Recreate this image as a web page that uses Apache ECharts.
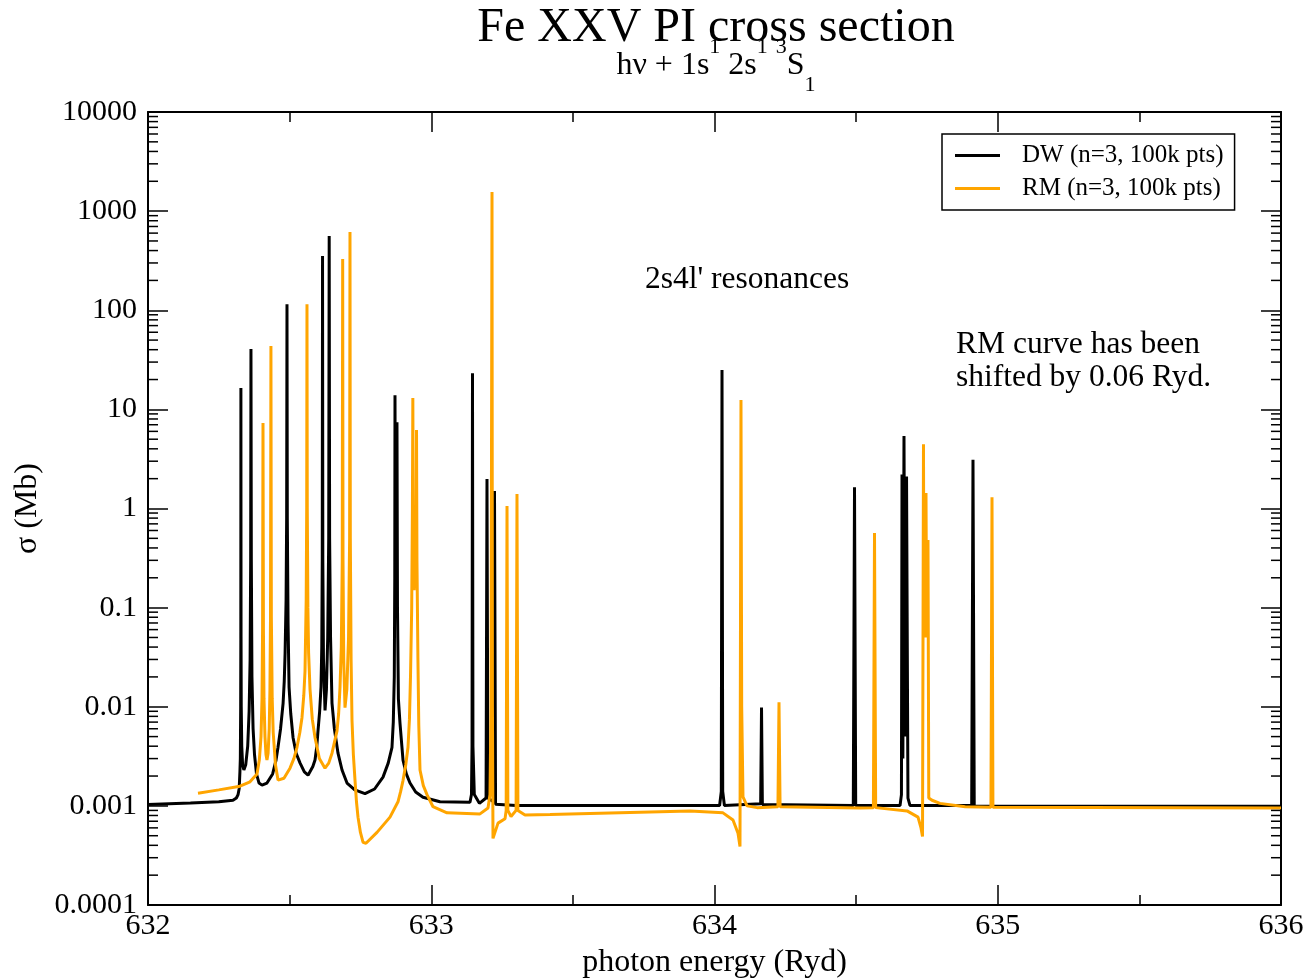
<!DOCTYPE html>
<html>
<head>
<meta charset="utf-8">
<script src="https://cdn.jsdelivr.net/npm/echarts@6/dist/echarts.min.js"></script>
<style>html,body{margin:0;padding:0;background:#fff}#chart{width:1311px;height:980px}</style>
</head>
<body>
<div id="chart"></div>
<script>
// ---------------- data ----------------
const xTickValues = [632, 633, 634, 635, 636];
const yTickLabels = ['0.0001', '0.001', '0.01', '0.1', '1', '10', '100', '1000', '10000'];
const yMinorTickMultipliers = [2, 3, 4, 5, 6, 7, 8, 9];
const yDecades = [-4, -3, -2, -1, 0, 1, 2, 3];

// DW curve (black): photon energy (Ryd) and cross section (Mb)
const dwEnergy = [
  632.000, 632.150, 632.250, 632.300, 632.312, 632.318, 632.322, 632.3245, 632.326, 632.3272,
  632.3277, 632.328, 632.3285, 632.3292, 632.331, 632.334, 632.3385, 632.345, 632.352, 632.357,
  632.3605, 632.3625, 632.3635, 632.3648, 632.367, 632.371, 632.376, 632.383, 632.392, 632.4025,
  632.420, 632.440, 632.452, 632.459, 632.468, 632.477, 632.481, 632.484, 632.4875, 632.4895,
  632.4907, 632.4918, 632.4945, 632.498, 632.504, 632.512, 632.523, 632.537, 632.552, 632.565,
  632.572, 632.582, 632.5896, 632.596, 632.6002, 632.606, 632.6108, 632.6135, 632.6152, 632.6162,
  632.6172, 632.6195, 632.625, 632.630, 632.6345, 632.638, 632.6397, 632.6412, 632.6445, 632.6496,
  632.658, 632.6708, 632.685, 632.7026, 632.730, 632.7661, 632.800, 632.8297, 632.848, 632.8614,
  632.866, 632.8695, 632.8712, 632.872, 632.8735, 632.8765, 632.879, 632.8808, 632.884, 632.8897,
  632.9003, 632.912, 632.925, 632.945, 632.9709, 633.0309, 633.1368,
  633.142, 633.144, 633.1456, 633.1472, 633.152, 633.170, 633.1935, 633.1968, 633.200, 633.220,
  633.2233, 633.227, 633.300, 634.018, 634.024, 634.0265, 634.029, 634.035, 634.163, 634.166,
  634.169, 634.490, 634.4943, 634.4985, 634.655, 634.660, 634.662, 634.665, 634.669, 634.673,
  634.678, 634.683, 634.690, 634.908, 634.9126, 634.917, 636.000
];
const dwSigma = [
  0.00103, 0.00107, 0.00110, 0.00114, 0.0012, 0.0013, 0.0015, 0.0022, 0.003, 0.01,
  0.05, 16.4, 0.05, 0.01, 0.004, 0.0026, 0.0023, 0.0026, 0.004, 0.009,
  0.03, 0.3, 40.7, 0.3, 0.02, 0.006, 0.0033, 0.0021, 0.0017, 0.00162,
  0.0017, 0.0021, 0.0029, 0.0039, 0.0060, 0.0109, 0.018, 0.0348, 0.12, 0.8,
  115, 0.8, 0.07, 0.0158, 0.0085, 0.0049, 0.0034, 0.0027, 0.0022, 0.00204,
  0.0021, 0.0025, 0.0029, 0.0040, 0.0057, 0.009, 0.0158, 0.04, 0.3, 352,
  0.3, 0.03, 0.0092, 0.015, 0.05, 0.5, 561, 0.5, 0.05, 0.0109,
  0.0060, 0.0034, 0.0023, 0.0017, 0.00145, 0.00133, 0.00148, 0.00195, 0.0027, 0.0039,
  0.007, 0.02, 0.2, 13.9, 0.3, 0.2, 7.4, 0.1, 0.012, 0.0068,
  0.0029, 0.0021, 0.0017, 0.00138, 0.00122, 0.00110, 0.00109,
  0.0013, 0.004, 23.2, 0.004, 0.0013, 0.00106, 0.0012, 1.98, 0.0012, 0.0011,
  1.5, 0.00104, 0.00101, 0.00101, 0.0014, 24.9, 0.0014, 0.00101, 0.00105, 0.0098,
  0.00103, 0.00101, 1.64, 0.00101, 0.00101, 0.0013, 2.2, 0.003, 5.4, 0.005,
  2.1, 0.0012, 0.00101, 0.00101, 3.1, 0.00100, 0.00099
];

// RM curve (orange, shifted by 0.06 Ryd)
const rmEnergy = [
  632.1765, 632.250, 632.3248, 632.3601, 632.3848, 632.393, 632.399, 632.4025, 632.4045, 632.406,
  632.4075, 632.4095, 632.413, 632.4165, 632.420, 632.424, 632.428, 632.4305, 632.4325, 632.434,
  632.4355, 632.4385, 632.442, 632.450, 632.459, 632.480, 632.5013, 632.515, 632.526, 632.536,
  632.5437, 632.550, 632.5543, 632.5585, 632.5603, 632.5613, 632.5623, 632.5645, 632.567, 632.572,
  632.580, 632.5896, 632.605, 632.6249, 632.638, 632.6496, 632.6673, 632.673, 632.6779, 632.6825,
  632.6858, 632.6873, 632.6885, 632.691, 632.6955, 632.702, 632.708, 632.7118, 632.7131, 632.7143,
  632.717, 632.7202, 632.725, 632.7308, 632.736, 632.7414, 632.750, 632.759, 632.7696, 632.8085,
  632.8544, 632.8826, 632.892, 632.9003, 632.910, 632.9179, 632.923, 632.9267, 632.931, 632.9335,
  632.935, 632.9365, 632.9395, 632.9435, 632.9465, 632.948, 632.9495, 632.953, 632.956, 632.9603,
  632.972, 632.985, 633.0062, 633.0556, 633.1721,
  633.2004, 633.2074, 633.211, 633.2145, 633.216, 633.218, 633.2357, 633.2604, 633.2645, 633.2675,
  633.2705, 633.2816, 633.2995, 633.3027, 633.306, 633.331, 633.4193, 633.9135, 634.030, 634.0653,
  634.083, 634.090, 634.0935, 634.096, 634.1006, 634.1148, 634.150, 634.224, 634.2277, 634.2315,
  634.5137, 634.561, 634.5649, 634.569, 634.6797, 634.7185, 634.729, 634.7344, 634.7378, 634.7395,
  634.7467, 634.749, 634.7537, 634.7565, 634.7679, 634.796, 634.885, 634.976, 634.9797, 634.983,
  636.000
];
const rmSigma = [
  0.00134, 0.00145, 0.00158, 0.00175, 0.0021, 0.0029, 0.005, 0.012, 0.06, 7.3,
  0.06, 0.012, 0.005, 0.0033, 0.0029, 0.0034, 0.006, 0.015, 0.08, 43.5,
  0.08, 0.012, 0.0055, 0.0026, 0.00182, 0.0019, 0.0024, 0.0030, 0.0039, 0.0055,
  0.0078, 0.013, 0.0228, 0.12, 1, 115, 1, 0.1, 0.035, 0.015,
  0.0075, 0.0049, 0.0030, 0.0024, 0.0027, 0.0034, 0.0057, 0.0085, 0.0158, 0.04,
  0.3, 329, 0.3, 0.03, 0.0098, 0.015, 0.05, 0.5, 615, 0.5,
  0.03, 0.0073, 0.0033, 0.00182, 0.0011, 0.00077, 0.00054, 0.00043, 0.00042, 0.00054,
  0.00077, 0.0011, 0.0014, 0.0018, 0.0026, 0.0039, 0.0075, 0.02, 0.1, 1,
  13, 0.6, 0.15, 0.15, 0.6, 6.2, 0.3, 0.03, 0.0065, 0.0023,
  0.0016, 0.0013, 0.00098, 0.00085, 0.00083,
  0.00095, 0.0013, 0.01, 1560, 0.01, 0.00047, 0.00067, 0.00074, 0.0009, 1.06,
  0.0009, 0.00078, 0.0009, 1.4, 0.0009, 0.00081, 0.00082, 0.00089, 0.00085, 0.00072,
  0.00053, 0.00039, 12.4, 0.01, 0.00123, 0.00100, 0.00096, 0.00098, 0.0111, 0.00098,
  0.00095, 0.00096, 0.565, 0.00096, 0.00089, 0.00077, 0.0006, 0.00049, 4.45, 0.05,
  1.43, 0.05, 0.48, 0.0012, 0.00114, 0.00106, 0.00098, 0.00097, 1.3, 0.00097,
  0.00095
];

const seriesNames = ['DW (n=3, 100k pts)', 'RM (n=3, 100k pts)'];
const seriesColors = ['#000000', '#FFA500'];
// -------------------------------------------------------------

const FONT = '"Liberation Serif", "Times New Roman", Times, serif';
const zip = (xs, ys) => xs.map((x, i) => [x, ys[i]]);
const yMinorTicks = [];
yDecades.forEach(d => yMinorTickMultipliers.forEach(m => yMinorTicks.push([xTickValues[0], m * Math.pow(10, d)])));

const xMin = xTickValues[0], xMax = xTickValues[xTickValues.length - 1];
const yMin = Number(yTickLabels[0]), yMax = Number(yTickLabels[yTickLabels.length - 1]);

const axisLine = { show: true, onZero: false, lineStyle: { color: '#000', width: 2 } };
const majorTick = { show: true, inside: true, length: 20, lineStyle: { color: '#000', width: 1.5 } };
const minorTickX = { show: true, splitNumber: 2, length: 10, lineStyle: { color: '#000', width: 1.5 } };

const chart = echarts.init(document.getElementById('chart'), null, { renderer: 'canvas' });
chart.setOption({
  animation: false,
  backgroundColor: '#fff',
  grid: { left: 148, right: 30, top: 112, bottom: 75, containLabel: false, outerBoundsMode: 'none' },
  xAxis: [
    {
      type: 'value', min: xMin, max: xMax, interval: 1, position: 'bottom',
      axisLine: axisLine, axisTick: majorTick, minorTick: minorTickX,
      splitLine: { show: false },
      axisLabel: { color: '#000', fontFamily: FONT, fontSize: 30, margin: 6 },
      name: 'photon energy (Ryd)', nameLocation: 'middle', nameGap: 42,
      nameTextStyle: { color: '#000', fontFamily: FONT, fontSize: 32 }
    },
    {
      type: 'value', min: xMin, max: xMax, interval: 1, position: 'top',
      axisLine: axisLine, axisTick: majorTick, minorTick: minorTickX,
      splitLine: { show: false }, axisLabel: { show: false }
    }
  ],
  yAxis: [
    {
      type: 'log', logBase: 10, min: yMin, max: yMax, splitNumber: 8, position: 'left',
      axisLine: axisLine, axisTick: majorTick, minorTick: { show: false },
      splitLine: { show: false },
      axisLabel: {
        color: '#000', fontFamily: FONT, fontSize: 30, margin: 11,
        formatter: v => yTickLabels[Math.round(Math.log10(v)) + 4]
      },
      name: 'σ (Mb)', nameLocation: 'middle', nameGap: 100, nameRotate: 90,
      nameTextStyle: { color: '#000', fontFamily: FONT, fontSize: 32 }
    },
    {
      type: 'log', logBase: 10, min: yMin, max: yMax, splitNumber: 8, position: 'right',
      axisLine: axisLine, axisTick: majorTick, minorTick: { show: false },
      splitLine: { show: false }, axisLabel: { show: false }
    }
  ],
  legend: {
    data: seriesNames,
    orient: 'vertical', left: 942, top: 134,
    padding: [9, 11, 9, 13], itemGap: 8, itemWidth: 45, itemHeight: 3, icon: 'rect',
    borderColor: '#000', borderWidth: 1.5, backgroundColor: '#fff',
    textStyle: { color: '#000', fontFamily: FONT, fontSize: 25, lineHeight: 25, padding: [0, 0, 0, 17] }
  },
  graphic: [
    { type: 'text', x: 716, y: 28, style: { text: 'Fe XXV PI cross section', font: '48px ' + FONT, fill: '#000', align: 'center', verticalAlign: 'middle' } },
    {
      type: 'text', x: 716, y: 66,
      style: {
        text: '{m|hν + 1s}{p|1}{m| 2s}{p|1}{m| }{p|3}{m|S}{b|1}',
        align: 'center', verticalAlign: 'middle', fill: '#000',
        rich: {
          m: { fontFamily: FONT, fontSize: 32, lineHeight: 60, verticalAlign: 'middle', fill: '#000' },
          p: { fontFamily: FONT, fontSize: 22, lineHeight: 46, verticalAlign: 'top', fill: '#000' },
          b: { fontFamily: FONT, fontSize: 22, lineHeight: 28, verticalAlign: 'bottom', fill: '#000' }
        }
      }
    },
    { type: 'text', x: 645, y: 280, style: { text: "2s4l' resonances", font: '31.5px ' + FONT, fill: '#000', align: 'left', verticalAlign: 'middle' } },
    { type: 'text', x: 956, y: 345, style: { text: 'RM curve has been', font: '31.5px ' + FONT, fill: '#000', align: 'left', verticalAlign: 'middle' } },
    { type: 'text', x: 956, y: 378, style: { text: 'shifted by 0.06 Ryd.', font: '31.5px ' + FONT, fill: '#000', align: 'left', verticalAlign: 'middle' } }
  ],
  series: [
    {
      name: seriesNames[0], type: 'line', data: zip(dwEnergy, dwSigma),
      showSymbol: false, symbol: 'none', sampling: null, clip: true,
      lineStyle: { color: seriesColors[0], width: 3 }, itemStyle: { color: seriesColors[0] }, z: 3
    },
    {
      name: seriesNames[1], type: 'line', data: zip(rmEnergy, rmSigma),
      showSymbol: false, symbol: 'none', sampling: null, clip: true,
      lineStyle: { color: seriesColors[1], width: 3 }, itemStyle: { color: seriesColors[1] }, z: 4
    },
    {
      name: 'yMinorTicks', type: 'custom', data: yMinorTicks, silent: true, z: 5, clip: false,
      renderItem: function (params, api) {
        const v = api.value(1);
        const l = api.coord([xMin, v]);
        const r = api.coord([xMax, v]);
        return {
          type: 'group',
          children: [
            { type: 'line', shape: { x1: l[0], y1: l[1], x2: l[0] + 10, y2: l[1] }, style: { stroke: '#000', lineWidth: 1.5 } },
            { type: 'line', shape: { x1: r[0] - 10, y1: r[1], x2: r[0], y2: r[1] }, style: { stroke: '#000', lineWidth: 1.5 } }
          ]
        };
      }
    }
  ]
});
</script>
</body>
</html>
